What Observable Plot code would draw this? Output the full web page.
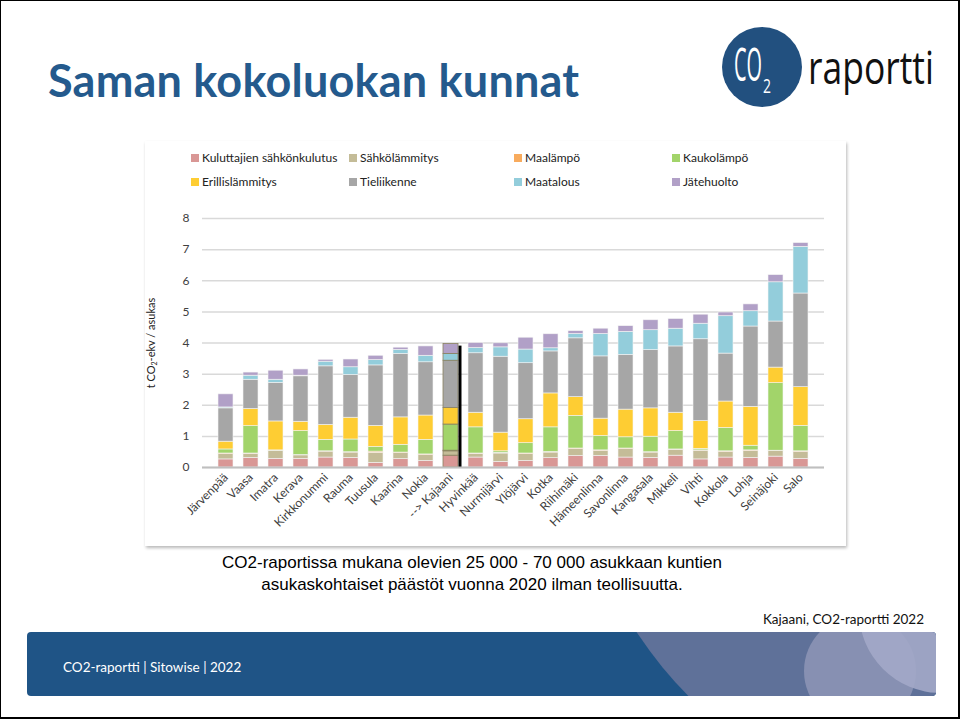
<!DOCTYPE html>
<html><head><meta charset="utf-8">
<script src="https://cdn.jsdelivr.net/npm/d3@7"></script>
<script src="https://cdn.jsdelivr.net/npm/@observablehq/plot@0.6"></script>
<style>
body{margin:0;background:#fff;}
#slide{position:relative;width:960px;height:719px;overflow:hidden;background:#fff;box-sizing:border-box;border:1px solid #000;border-right-width:2px;border-bottom-width:2px;font-family:Lato,"Open Sans",sans-serif;}
#slide > *{position:absolute;}
#title{left:47px;top:52px;font:700 45px Lato,sans-serif;color:#245a8d;white-space:nowrap;letter-spacing:0.2px;}
#panel{left:144px;top:140px;width:701px;height:405px;background:#fff;box-shadow:1px 2px 3px rgba(0,0,0,0.28);}
#chart{left:144px;top:199px;}
#legend{left:0;top:0;}
.lg{position:absolute;font-size:12px;color:#222;white-space:nowrap;line-height:14px;}
.lg i{display:inline-block;width:8px;height:8px;margin-right:3px;vertical-align:0px;}
#ylabel{left:150px;top:342px;transform:translate(-50%,-50%) rotate(-90deg);font-size:11px;color:#222;white-space:nowrap;}
#ylabel sub{font-size:7px;vertical-align:-2px;}
#caption{left:170px;width:602px;top:551px;text-align:center;font:17px "Liberation Sans",Arial,sans-serif;line-height:22px;color:#000;}
#source{right:34px;top:610px;font:13.5px Lato,sans-serif;color:#111;}
</style></head><body>
<div id="slide">
  <div id="title">Saman kokoluokan kunnat</div>
  <svg id="logo" style="left:712px;top:20px" width="240" height="95">
    <circle cx="49" cy="46" r="40" fill="#22507f"/>
    <text class="fit" data-x="21" data-y="60" data-w="28" fill="#fff" font-family="Open Sans" font-weight="400" font-size="46">CO</text>
    <text class="fit" data-x="50" data-y="72" data-w="8" fill="#fff" font-family="Open Sans" font-weight="400" font-size="20">2</text>
    <text class="fit" data-x="95" data-y="63" data-w="126" fill="#111" font-family="Open Sans" font-weight="400" font-size="46">raportti</text>
  </svg>
  <div id="panel"></div>
  <div id="legend"></div>
  <div id="chart"></div>
  <div id="ylabel">t CO<sub>2</sub>-ekv / asukas</div>
  <div id="caption">CO2-raportissa mukana olevien 25 000 - 70 000 asukkaan kuntien<br>asukaskohtaiset päästöt vuonna 2020 ilman teollisuutta.</div>
  <div id="source">Kajaani, CO2-raportti 2022</div>
  <svg id="footer" style="left:26px;top:631px" width="910" height="65">
    <defs><clipPath id="fc"><rect x="0" y="0" width="909" height="64" rx="4"/></clipPath></defs>
    <g clip-path="url(#fc)">
      <rect x="0" y="0" width="909" height="64" fill="#1f5486"/>
      <circle cx="950" cy="-223" r="407" fill="#5f7199"/>
      <circle cx="833" cy="39" r="56" fill="#8790b2"/>
      <circle cx="914" cy="-21" r="82" fill="#a3a8c8" fill-opacity="0.9"/>
      <text x="36" y="40" fill="#fff" font-family="Lato" font-size="13.5">CO2-raportti | Sitowise | 2022</text>
    </g>
  </svg>
</div>
<script>
const kunnat = ["Järvenpää","Vaasa","Imatra","Kerava","Kirkkonummi","Rauma","Tuusula","Kaarina","Nokia","Kajaani","Hyvinkää","Nurmijärvi","Ylöjärvi","Kotka","Riihimäki","Hämeenlinna","Savonlinna","Kangasala","Mikkeli","Vihti","Kokkola","Lohja","Seinäjoki","Salo"];
const kuntaLabels = ["Järvenpää","Vaasa","Imatra","Kerava","Kirkkonummi","Rauma","Tuusula","Kaarina","Nokia","--> Kajaani","Hyvinkää","Nurmijärvi","Ylöjärvi","Kotka","Riihimäki","Hämeenlinna","Savonlinna","Kangasala","Mikkeli","Vihti","Kokkola","Lohja","Seinäjoki","Salo"];
const sektorit = ["Kuluttajien sähkönkulutus","Sähkölämmitys","Maalämpö","Kaukolämpö","Erillislämmitys","Tieliikenne","Maatalous","Jätehuolto"];
const varit = ["#d99795","#c4bc98","#f8ab5d","#a2d46a","#fecd33","#a6a6a6","#93cddb","#b1a0c7"];
const yTicks = [0,1,2,3,4,5,6,7,8];

const kulutus       = [0.26,0.31,0.28,0.28,0.32,0.31,0.15,0.27,0.21,0.38,0.32,0.18,0.21,0.30,0.37,0.37,0.32,0.31,0.38,0.26,0.32,0.31,0.35,0.28];
const sahkolammitys = [0.17,0.13,0.25,0.11,0.19,0.17,0.32,0.19,0.19,0.14,0.12,0.27,0.22,0.18,0.22,0.16,0.27,0.17,0.19,0.28,0.18,0.22,0.18,0.22];
const maalampo      = [0.02,0.01,0.01,0.01,0.01,0.01,0.04,0.02,0.02,0.02,0.01,0.02,0.02,0.02,0.02,0.02,0.02,0.01,0.01,0.01,0.02,0.02,0.01,0.02];
const kaukolampo    = [0.13,0.88,0.01,0.77,0.37,0.41,0.15,0.25,0.47,0.84,0.84,0.05,0.33,0.79,1.05,0.46,0.36,0.50,0.59,0.05,0.75,0.15,2.17,0.82];
const erillis       = [0.25,0.55,0.93,0.30,0.48,0.70,0.68,0.88,0.78,0.53,0.47,0.60,0.77,1.09,0.60,0.56,0.89,0.91,0.59,0.89,0.85,1.25,0.50,1.24];
const tieliikenne   = [1.07,0.94,1.24,1.46,1.88,1.37,1.94,2.04,1.71,1.52,1.91,2.44,1.80,1.35,1.89,2.00,1.76,1.87,2.13,2.63,1.54,2.58,1.48,3.01];
const maatalous     = [0.03,0.13,0.10,0.02,0.15,0.25,0.17,0.13,0.21,0.22,0.17,0.30,0.44,0.10,0.14,0.72,0.74,0.64,0.57,0.50,1.20,0.49,1.26,1.50];
const jatehuolto    = [0.42,0.10,0.29,0.20,0.06,0.25,0.14,0.07,0.30,0.32,0.16,0.13,0.38,0.45,0.09,0.17,0.18,0.32,0.31,0.29,0.12,0.22,0.23,0.12];

const series = [kulutus,sahkolammitys,maalampo,kaukolampo,erillis,tieliikenne,maatalous,jatehuolto];
const data = kunnat.flatMap((k,i) => sektorit.map((s,j) => ({kunta:k, sektori:s, arvo:series[j][i]})));
const labelOf = new Map(kunnat.map((k,i)=>[k,kuntaLabels[i]]));

// logo texts: squeeze horizontally to the logo's narrow lettering
document.querySelectorAll("#logo text.fit").forEach(t => {
  const w = t.getComputedTextLength() || 1;
  const s = (+t.dataset.w) / w;
  t.setAttribute("transform", `translate(${t.dataset.x},${t.dataset.y}) scale(${s},1)`);
});

// legend
const legendPos = [[190,150],[348,150],[513,150],[671,150],[190,174],[348,174],[513,174],[671,174]];
const lg = document.getElementById("legend");
sektorit.forEach((s,i) => {
  const d = document.createElement("div");
  d.className = "lg";
  d.style.left = legendPos[i][0] + "px";
  d.style.top = legendPos[i][1] + "px";
  d.innerHTML = `<i style="background:${varit[i]}"></i>${s}`;
  lg.appendChild(d);
});

const chart = Plot.plot({
  width: 701, height: 346,
  marginLeft: 57, marginRight: 22, marginTop: 18, marginBottom: 79,
  style: {fontFamily: "Lato, 'Open Sans', sans-serif", background: "transparent", color: "#404040"},
  x: {domain: kunnat, paddingInner: 0.42, paddingOuter: 0.21, label: null},
  y: {domain: [0, 8], label: null},
  color: {domain: sektorit, range: varit},
  marks: [
    Plot.gridY(yTicks, {stroke: "#d9d9d9", strokeOpacity: 1, strokeWidth: 1.5}),
    Plot.barY(data, {x: "kunta", y: "arvo", fill: "sektori",
      stroke: d => d.kunta === "Kajaani" ? "#8a8260" : "#f4f4f4", strokeWidth: d => d.kunta === "Kajaani" ? 0.8 : 0.6}),
    Plot.ruleX(["Kajaani"], {y1: 0, y2: 3.9, stroke: "#000", strokeWidth: 3, dx: 9}),
    Plot.ruleY([0], {stroke: "#bfbfbf", strokeWidth: 2}),
    Plot.axisY(yTicks, {tickSize: 0, tickPadding: 13, fontSize: 12, fill: "#404040", label: null}),
    Plot.axisX({tickSize: 0, tickPadding: 8, tickRotate: -45, fontSize: 12, fill: "#404040", label: null, tickFormat: d => labelOf.get(d)})
  ]
});
document.getElementById("chart").appendChild(chart);
</script>
</body></html>
